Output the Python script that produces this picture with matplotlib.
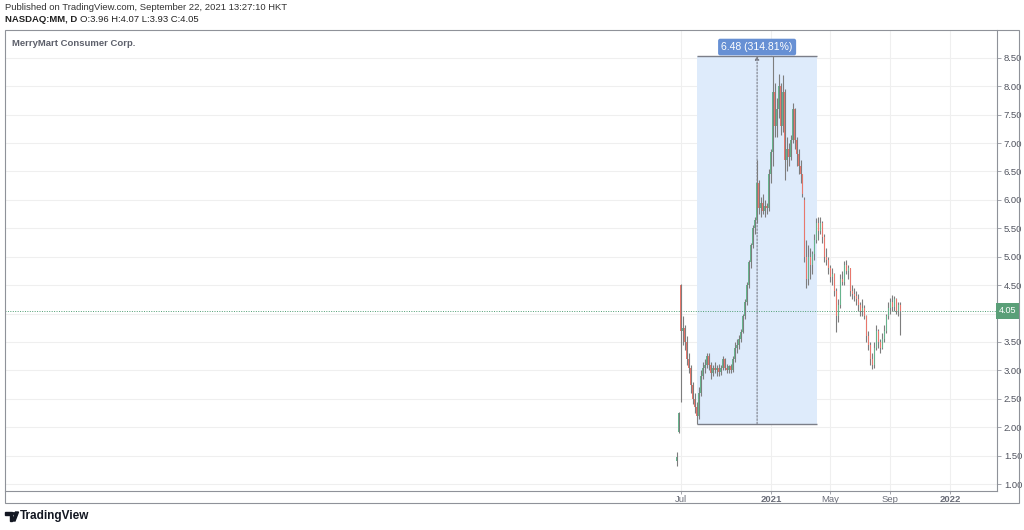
import numpy as np
import pandas as pd
import matplotlib
matplotlib.use("Agg")
import matplotlib.pyplot as plt
import matplotlib.dates as mdates
from matplotlib.patches import Rectangle, Polygon, Circle

# OHLC (one candle per ~3 trading days)
opens = [1.40, 1.92, 4.50, 3.70, 3.75, 3.50, 3.20, 3.05, 2.75, 2.50,
         2.35, 2.20, 2.60, 2.90, 3.05, 3.10, 3.25, 3.10, 2.95, 3.05,
         3.00, 3.05, 2.98, 3.05, 3.20, 3.05, 3.00, 3.08, 3.00, 3.20,
         3.40, 3.45, 3.55, 3.68, 3.95, 4.20, 4.50, 4.90, 5.20, 5.50,
         5.65, 6.30, 5.85, 5.95, 5.80, 5.90, 5.85, 6.45, 6.85, 7.90,
         7.30, 7.60, 8.00, 7.30, 7.90, 6.70, 6.90, 6.75, 7.05, 7.60,
         7.05, 6.80, 6.60, 6.45, 6.00, 5.00, 4.60, 5.00, 4.85, 5.05,
         5.30, 5.60, 5.45, 5.60, 5.35, 5.00, 4.95, 4.80, 4.65, 4.70,
         4.40, 3.95, 4.15, 4.60, 4.55, 4.85, 4.75, 4.80, 4.40, 4.35,
         4.30, 4.25, 4.15, 4.05, 4.10, 3.95, 3.60, 3.45, 3.20, 3.10,
         3.40, 3.70, 3.50, 3.40, 3.55, 3.70, 3.95, 4.10, 4.20, 4.12,
         4.25, 4.05, 4.15]
highs = [1.56, 2.27, 4.52, 3.96, 3.80, 3.60, 3.30, 3.10, 2.80, 2.60,
         2.45, 2.70, 3.00, 3.15, 3.20, 3.30, 3.30, 3.15, 3.10, 3.15,
         3.10, 3.12, 3.10, 3.25, 3.22, 3.12, 3.10, 3.12, 3.25, 3.50,
         3.55, 3.62, 3.72, 4.00, 4.25, 4.55, 4.95, 5.25, 5.55, 5.70,
         6.70, 6.35, 6.05, 6.10, 6.00, 5.95, 6.55, 6.90, 8.54, 8.05,
         7.80, 8.22, 8.05, 8.20, 7.95, 7.10, 7.00, 7.15, 7.70, 7.62,
         7.10, 6.90, 6.70, 6.45, 6.05, 5.30, 5.20, 5.15, 5.10, 5.40,
         5.68, 5.70, 5.70, 5.62, 5.40, 5.15, 5.00, 4.85, 4.80, 4.72,
         4.45, 4.25, 4.70, 4.75, 4.92, 4.95, 4.85, 4.80, 4.50, 4.45,
         4.40, 4.35, 4.20, 4.25, 4.15, 3.98, 3.70, 3.50, 3.30, 3.50,
         3.80, 3.72, 3.55, 3.65, 3.80, 4.00, 4.20, 4.28, 4.32, 4.30,
         4.27, 4.20, 4.20]
lows = [1.32, 1.90, 2.45, 3.45, 3.35, 3.10, 2.95, 2.60, 2.40, 2.25,
        2.06, 2.15, 2.55, 2.85, 2.95, 3.05, 3.00, 2.85, 2.90, 2.95,
        2.90, 2.90, 2.92, 3.00, 3.00, 2.95, 2.95, 2.95, 2.97, 3.15,
        3.30, 3.38, 3.50, 3.65, 3.90, 4.15, 4.45, 4.80, 5.15, 5.40,
        5.60, 5.75, 5.70, 5.75, 5.70, 5.75, 5.80, 6.30, 6.60, 7.10,
        7.10, 7.45, 7.15, 7.20, 6.35, 6.50, 6.60, 6.70, 7.00, 6.90,
        6.60, 6.45, 6.30, 6.05, 4.90, 4.45, 4.50, 4.60, 4.70, 4.95,
        5.25, 5.30, 5.40, 5.25, 4.90, 4.85, 4.70, 4.55, 4.50, 4.30,
        3.68, 3.85, 4.10, 4.50, 4.50, 4.70, 4.60, 4.30, 4.25, 4.22,
        4.15, 4.05, 3.95, 3.95, 3.90, 3.50, 3.35, 3.10, 3.03, 3.05,
        3.35, 3.40, 3.30, 3.38, 3.50, 3.65, 3.90, 4.00, 4.05, 4.05,
        4.00, 3.95, 3.62]
closes = [1.48, 2.25, 3.70, 3.75, 3.50, 3.20, 3.05, 2.75, 2.50, 2.35,
          2.20, 2.60, 2.90, 3.05, 3.10, 3.25, 3.10, 2.95, 3.05, 3.00,
          3.05, 2.98, 3.05, 3.20, 3.05, 3.00, 3.08, 3.00, 3.20, 3.40,
          3.45, 3.55, 3.68, 3.95, 4.20, 4.50, 4.90, 5.20, 5.50, 5.65,
          6.30, 5.85, 5.95, 5.80, 5.90, 5.85, 6.45, 6.85, 7.90, 7.30,
          7.60, 8.00, 7.30, 7.90, 6.70, 6.90, 6.75, 7.05, 7.60, 7.05,
          6.80, 6.60, 6.45, 6.10, 5.00, 4.60, 5.00, 4.85, 5.05, 5.30,
          5.60, 5.45, 5.60, 5.35, 5.00, 4.95, 4.80, 4.65, 4.70, 4.40,
          3.95, 4.15, 4.60, 4.55, 4.85, 4.75, 4.80, 4.40, 4.35, 4.30,
          4.25, 4.15, 4.05, 4.10, 3.95, 3.60, 3.45, 3.20, 3.10, 3.40,
          3.70, 3.50, 3.40, 3.55, 3.70, 3.95, 4.10, 4.20, 4.12, 4.25,
          4.05, 4.15, 4.05]
first_bar, last_bar = "2020-06-23", "2021-09-21"

price_ticks = [1.0, 1.5, 2.0, 2.5, 3.0, 3.5, 4.0, 4.5, 5.0, 5.5, 6.0, 6.5, 7.0, 7.5, 8.0, 8.5]
time_ticks = ["2020-07-01", "2021-01-01", "2021-05-01", "2021-09-01", "2022-01-01"]
time_labels = ["Jul", "2021", "May", "Sep", "2022"]

# price range tool drawn on the chart
range_start, range_end = "2020-08-03", "2021-04-05"
range_low, range_high = 2.06, 8.54
range_label = "6.48 (314.81%)"
last_price = 4.05

header1 = "Published on TradingView.com, September 22, 2021 13:27:10 HKT"
header2a = "NASDAQ:MM, D"
header2b = "O:3.96 H:4.07 L:3.93 C:4.05"
title = "MerryMart Consumer Corp."

plt.rcParams["font.family"] = ["Liberation Sans", "DejaVu Sans"]

W, H = 1024, 530
fig = plt.figure(figsize=(W / 100, H / 100), dpi=100)


def fx(px):
    return px / W


def fy(py):
    return 1 - py / H


ax = fig.add_axes([fx(5), fy(491), fx(992), 461 / H])

o = np.array(opens)
h = np.array(highs)
l = np.array(lows)
c = np.array(closes)
dates = pd.date_range(first_bar, last_bar, periods=len(c))
x = mdates.date2num(dates)
up = c >= o
colors = np.where(up, "#66b48d", "#e9776c")

# measured range box
x0 = mdates.date2num(pd.Timestamp(range_start))
x1 = mdates.date2num(pd.Timestamp(range_end))
xm = (x0 + x1) / 2
ax.add_patch(Rectangle((x0, range_low), x1 - x0, range_high - range_low,
                       facecolor="#deebfb", edgecolor="none", zorder=1))
ax.hlines([range_low, range_high], x0, x1, color="#7b7e88", lw=1.0, zorder=2)
ax.annotate("", xy=(xm, range_high), xytext=(xm, range_low),
            arrowprops=dict(arrowstyle="-|>", linestyle=(0, (1.5, 1.5)), color="#7b7e88",
                            lw=0.8, shrinkA=0, shrinkB=0, mutation_scale=6), zorder=2)
ax.text(xm, 8.69, range_label, ha="center", va="center", color="white", fontsize=7.5,
        bbox=dict(boxstyle="round,pad=0.32,rounding_size=0.2", fc="#6790d4", ec="none"), zorder=5)

# candles
ax.vlines(x, l, h, color="#7d7d7d", lw=0.8, zorder=3)
body = np.maximum(np.abs(c - o), 0.03)
ax.bar(x, body, bottom=np.minimum(o, c), width=2.8, color=colors, linewidth=0, zorder=4)

# last price line and label
ax.axhline(last_price, color="#4f9e73", ls=(0, (1, 1.5)), lw=0.7, zorder=2)
ax.text(1.011, last_price, f"{last_price:.2f}", transform=ax.get_yaxis_transform(),
        ha="center", va="center", fontsize=6.5, color="white", clip_on=False,
        bbox=dict(boxstyle="square,pad=0.4", fc="#5a9f78", ec="none"))

ax.set_xlim(mdates.date2num(pd.Timestamp("2016-09-24")), mdates.date2num(pd.Timestamp("2022-04-06")))
ax.set_ylim(0.877, 8.99)

ax.yaxis.tick_right()
ax.set_yticks(price_ticks)
# the 4.00 label sits under the last-price tag
ax.set_yticklabels(["" if p == 4.0 else f"{p:.2f}" for p in price_ticks])
ax.set_xticks(mdates.date2num(pd.to_datetime(time_ticks)))
ax.set_xticklabels(time_labels)
for lab in ax.get_xticklabels():
    if lab.get_text().isdigit():
        lab.set_fontweight("bold")
        lab.set_color("#3a3d46")
ax.tick_params(axis="y", labelsize=6.8, labelcolor="#50535e", color="#9598a1",
               length=3, width=0.6, pad=2)
ax.tick_params(axis="x", labelsize=6.8, labelcolor="#6a6d78", color="#9598a1",
               length=2, width=0.6, pad=1)
ax.grid(color="#efefef", lw=0.8, zorder=0)
ax.set_axisbelow(True)
for side in ["top", "left"]:
    ax.spines[side].set_visible(False)
for side in ["bottom", "right"]:
    ax.spines[side].set_color("#8f9299")
    ax.spines[side].set_linewidth(0.8)

# outer frame
fig.patches.append(Rectangle((fx(5), fy(503)), fx(1014), 473 / H, transform=fig.transFigure,
                             fill=False, edgecolor="#8f9299", lw=0.8))

fig.text(fx(5), fy(8), header1, fontsize=6.8, color="#333333", va="center")
t2 = fig.text(fx(5), fy(19), header2a, fontsize=6.8, color="#222222", va="center", fontweight="bold")
fig.text(fx(80), fy(19), header2b, fontsize=6.8, color="#222222", va="center")
fig.text(fx(12), fy(43), title, fontsize=6.8, color="#5d606b", fontweight="bold", va="center")

# TradingView logo
fig.patches.append(Polygon([(fx(5), fy(512)), (fx(12), fy(512)), (fx(12), fy(521)),
                            (fx(9.5), fy(521)), (fx(9.5), fy(515)), (fx(5), fy(515))],
                           closed=True, transform=fig.transFigure, color="#131722"))
fig.patches.append(Circle((fx(13.8), fy(513.5)), 1.4 / W, transform=fig.transFigure, color="#131722"))
fig.patches.append(Polygon([(fx(15.5), fy(512)), (fx(18.5), fy(512)), (fx(15), fy(521)), (fx(12.5), fy(521))],
                           closed=True, transform=fig.transFigure, color="#131722"))
fig.text(fx(20), fy(516.5), "TradingView", fontsize=8.5, fontweight="bold", color="#131722", va="center")

fig.savefig("out.png", dpi=100)
